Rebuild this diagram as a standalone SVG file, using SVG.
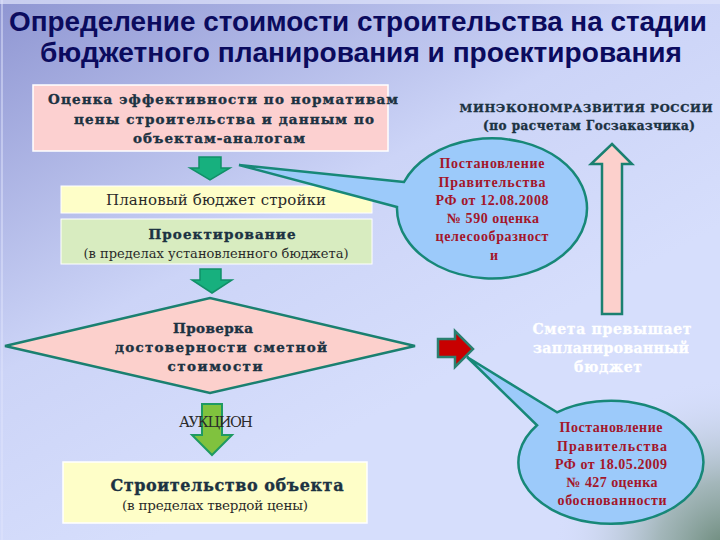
<svg xmlns="http://www.w3.org/2000/svg" width="720" height="540" viewBox="0 0 720 540">
<defs>
<linearGradient id="bg" x1="0" y1="0" x2="0.55" y2="0.75">
<stop offset="0" stop-color="#8f96d2"/>
<stop offset="0.6" stop-color="#ccd4f7"/>
<stop offset="1" stop-color="#d6defc"/>
</linearGradient>
<radialGradient id="corner" cx="728" cy="552" r="175" gradientUnits="userSpaceOnUse">
<stop offset="0" stop-color="#5f806c" stop-opacity="0.95"/>
<stop offset="0.4" stop-color="#819c8e" stop-opacity="0.6"/>
<stop offset="1" stop-color="#d6defc" stop-opacity="0"/>
</radialGradient>
<style>
.title{font-family:"Liberation Sans",Arial,sans-serif;font-weight:bold;font-size:27px;fill:#0b0b5e;text-anchor:middle}
.wb{font-family:"DejaVu Serif",serif;font-weight:bold;fill:#1c3242;stroke:#1c3242;stroke-width:0.35;text-anchor:middle}
.wr{font-family:"DejaVu Serif",serif;fill:#2a2a2a;text-anchor:middle}
.cl{font-family:"Liberation Serif","Times New Roman",serif;font-weight:bold;font-size:14px;fill:#a3162a;text-anchor:middle}
.call{fill:#9ccafa;stroke:#178878;stroke-width:2.5;stroke-linejoin:miter}
.garrow{fill:#17b07e;stroke:#119068;stroke-width:1.5}
.lgarrow{fill:#80c23e;stroke:#1e9a62;stroke-width:2}
.white{font-family:"DejaVu Serif",serif;font-weight:bold;font-size:14px;fill:#ffffff;stroke:#ffffff;stroke-width:0.3;text-anchor:middle}
</style>
</defs>
<rect width="720" height="540" fill="url(#bg)"/>
<rect width="720" height="540" fill="url(#corner)"/>
<rect x="0" y="0" width="720" height="4" fill="#dfe4fb" opacity="0.7"/>
<rect x="1" y="0" width="2" height="540" fill="#dfe4fb" opacity="0.5"/>

<g id="title">
<text class="title" x="358" y="31" textLength="698" lengthAdjust="spacingAndGlyphs">Определение стоимости строительства на стадии</text>
<text class="title" x="361" y="62" textLength="642" lengthAdjust="spacingAndGlyphs">бюджетного планирования и проектирования</text>
</g>

<g id="connectors">
<polygon class="garrow" points="199,157 221,157 221,168 230,168 210,180 190,168 199,168"/>
<polygon class="garrow" points="200,269 221,269 221,280 232,280 212,293 192,280 200,280"/>
<polygon class="lgarrow" points="202,404 222,404 222,435 232,435 212,455 192,435 202,435"/>
<polygon fill="#fcd0cc" stroke="#1a8070" stroke-width="2.5" points="612,144 632,164 622,164 622,314 602,314 602,164 591,164"/>
<polygon fill="#c80000" stroke="#2a8070" stroke-width="2.5" points="438,339 455,339 455,331 473,349 455,367 455,357 438,357"/>
</g>

<g id="box-ocenka">
<rect x="33" y="85" width="355" height="66" fill="#fcd0d0" stroke="#ffffff" stroke-width="1.5"/>
<text class="wb" font-size="13.5" x="223" y="104" textLength="350">Оценка эффективности по нормативам</text>
<text class="wb" font-size="13.5" x="224" y="124" textLength="300">цены строительства и данным по</text>
<text class="wb" font-size="13.5" x="219" y="143" textLength="172">объектам-аналогам</text>
</g>

<g id="box-budget">
<rect x="61" y="186" width="311" height="27" fill="#fefec8" stroke="#ffffff" stroke-width="1"/>
<text class="wr" font-size="15" x="216" y="205" textLength="220">Плановый бюджет стройки</text>
</g>

<g id="box-proekt">
<rect x="61" y="219" width="311" height="45" fill="#d8ecc0" stroke="#ffffff" stroke-width="1"/>
<text class="wb" font-size="13.5" x="222" y="239" textLength="147">Проектирование</text>
<text class="wr" font-size="13" x="216" y="258" textLength="265">(в пределах установленного бюджета)</text>
</g>

<g id="diamond">
<polygon points="5,346 210,298 415,346 210,393" fill="#fcd0cc" stroke="#1a8070" stroke-width="2.5"/>
<text class="wb" font-size="13.5" x="213" y="333" textLength="80">Проверка</text>
<text class="wb" font-size="13.5" x="221" y="352" textLength="212">достоверности сметной</text>
<text class="wb" font-size="13.5" x="215" y="371" textLength="95">стоимости</text>
</g>

<g id="auction">
<text class="wr" font-size="14.5" x="216" y="427" textLength="74" fill="#1a1a2a">АУКЦИОН</text>
</g>

<g id="box-stroit">
<rect x="63" y="462" width="304" height="61" fill="#fefec8" stroke="#ffffff" stroke-width="1.5"/>
<text class="wb" font-size="16" x="227" y="491" textLength="233">Строительство объекта</text>
<text class="wr" font-size="13.5" x="215" y="510" textLength="186">(в пределах твердой цены)</text>
</g>

<g id="minek">
<text class="wb" font-size="11.5" x="586" y="112" textLength="253" fill="#0f1f4a" stroke="#0f1f4a">МИНЭКОНОМРАЗВИТИЯ РОССИИ</text>
<text class="wb" font-size="12" x="589" y="130" textLength="212" fill="#0f1f4a" stroke="#0f1f4a">(по расчетам Госзаказчика)</text>
</g>

<g id="callout-590">
<path class="call" d="M404,182 L239,165 L397,207 A95,70 0 1 0 404,182 Z"/>
<text class="cl" x="492" y="168" textLength="105">Постановление</text>
<text class="cl" x="492" y="186.5" textLength="107">Правительства</text>
<text class="cl" x="492" y="204.5" textLength="113">РФ от 12.08.2008</text>
<text class="cl" x="493" y="222.5" textLength="92">№ 590 оценка</text>
<text class="cl" x="492" y="241" textLength="113">целесообразност</text>
<text class="cl" x="494" y="259.5">и</text>
</g>

<g id="smeta">
<text class="white" x="612" y="334" textLength="159">Смета превышает</text>
<text class="white" x="611" y="353" textLength="156">запланированный</text>
<text class="white" x="608" y="372" textLength="68">бюджет</text>
</g>

<g id="callout-427">
<path class="call" d="M557,412.3 L467,357 L537,425.3 A92.5,61.5 0 1 0 557,412.3 Z"/>
<text class="cl" x="611" y="432" textLength="103">Постановление</text>
<text class="cl" x="612" y="450.5" textLength="110">Правительства</text>
<text class="cl" x="611" y="468.5" textLength="112">РФ от 18.05.2009</text>
<text class="cl" x="612" y="487" textLength="91">№ 427 оценка</text>
<text class="cl" x="612" y="505" textLength="109">обоснованности</text>
</g>
</svg>
